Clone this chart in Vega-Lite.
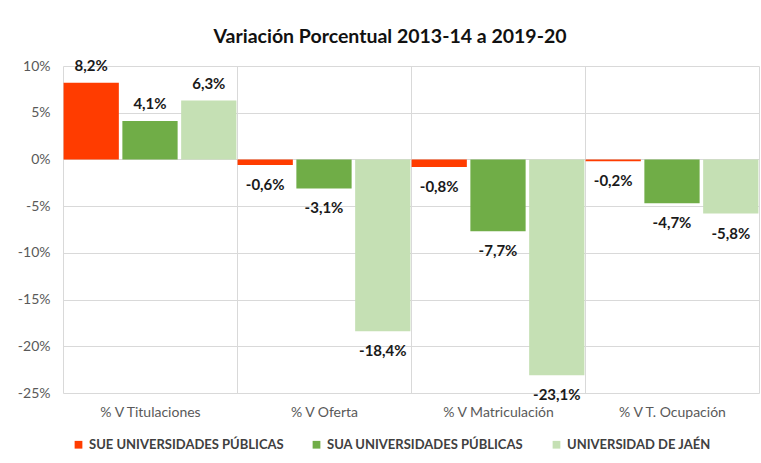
{
  "$schema": "https://vega.github.io/schema/vega-lite/v6.json",
  "width": 696,
  "height": 327,
  "autosize": {"type": "none"},
  "padding": {"left": 63, "top": 66, "right": 2, "bottom": 70},
  "background": "white",
  "config": {
    "locale": {"number": {"decimal": ",", "thousands": ".", "grouping": [3], "currency": ["", " €"], "minus": "-"}},
    "view": {"stroke": null},
    "font": "Lato"
  },
  "title": {
    "text": "Variación Porcentual 2013-14 a 2019-20",
    "fontSize": 19.5,
    "fontWeight": "bold",
    "color": "#111111",
    "anchor": "middle",
    "dx": -21,
    "offset": 11
  },
  "data": {
    "values": [
      {"indicador": "% V Titulaciones", "serie": "SUE UNIVERSIDADES PÚBLICAS", "valor": 0.082},
      {"indicador": "% V Titulaciones", "serie": "SUA UNIVERSIDADES PÚBLICAS", "valor": 0.041},
      {"indicador": "% V Titulaciones", "serie": "UNIVERSIDAD DE JAÉN", "valor": 0.063},
      {"indicador": "% V Oferta", "serie": "SUE UNIVERSIDADES PÚBLICAS", "valor": -0.006},
      {"indicador": "% V Oferta", "serie": "SUA UNIVERSIDADES PÚBLICAS", "valor": -0.031},
      {"indicador": "% V Oferta", "serie": "UNIVERSIDAD DE JAÉN", "valor": -0.184},
      {"indicador": "% V Matriculación", "serie": "SUE UNIVERSIDADES PÚBLICAS", "valor": -0.008},
      {"indicador": "% V Matriculación", "serie": "SUA UNIVERSIDADES PÚBLICAS", "valor": -0.077},
      {"indicador": "% V Matriculación", "serie": "UNIVERSIDAD DE JAÉN", "valor": -0.231},
      {"indicador": "% V T. Ocupación", "serie": "SUE UNIVERSIDADES PÚBLICAS", "valor": -0.002},
      {"indicador": "% V T. Ocupación", "serie": "SUA UNIVERSIDADES PÚBLICAS", "valor": -0.047},
      {"indicador": "% V T. Ocupación", "serie": "UNIVERSIDAD DE JAÉN", "valor": -0.058}
    ]
  },
  "encoding": {
    "x": {
      "field": "indicador",
      "type": "nominal",
      "sort": ["% V Titulaciones", "% V Oferta", "% V Matriculación", "% V T. Ocupación"],
      "scale": {"paddingInner": 0, "paddingOuter": 0},
      "axis": {
        "title": null,
        "labelAngle": 0,
        "tickBand": "extent",
        "grid": true,
        "gridColor": "#D9D9D9",
        "domain": false,
        "ticks": false,
        "labelPadding": 12,
        "labelFontSize": 14,
        "labelColor": "#595959"
      }
    },
    "xOffset": {
      "field": "serie",
      "type": "nominal",
      "sort": ["SUE UNIVERSIDADES PÚBLICAS", "SUA UNIVERSIDADES PÚBLICAS", "UNIVERSIDAD DE JAÉN"],
      "scale": {"paddingInner": 0.06, "paddingOuter": 0.01}
    },
    "y": {
      "field": "valor",
      "type": "quantitative",
      "scale": {"domain": [-0.25, 0.1], "nice": false, "zero": false},
      "axis": {
        "title": null,
        "values": [-0.25, -0.2, -0.15, -0.1, -0.05, 0, 0.05, 0.1],
        "format": ".0%",
        "grid": true,
        "gridColor": "#D9D9D9",
        "domain": false,
        "ticks": false,
        "labelPadding": 13,
        "labelFontSize": 14,
        "labelColor": "#595959"
      }
    }
  },
  "layer": [
    {
      "mark": {"type": "bar"},
      "encoding": {
        "color": {
          "field": "serie",
          "type": "nominal",
          "sort": ["SUE UNIVERSIDADES PÚBLICAS", "SUA UNIVERSIDADES PÚBLICAS", "UNIVERSIDAD DE JAÉN"],
          "scale": {
            "domain": ["SUE UNIVERSIDADES PÚBLICAS", "SUA UNIVERSIDADES PÚBLICAS", "UNIVERSIDAD DE JAÉN"],
            "range": ["#FF3C00", "#70AD47", "#C5E0B4"]
          },
          "legend": {
            "title": null,
            "orient": "none",
            "legendX": 9,
            "legendY": 372,
            "direction": "horizontal",
            "symbolType": "square",
            "symbolSize": 60,
            "symbolStrokeWidth": 0,
            "labelFontSize": 13,
            "labelFontWeight": "bold",
            "labelColor": "#404040",
            "labelLimit": 0,
            "columnPadding": 26
          }
        }
      }
    },
    {
      "transform": [{"filter": "datum.valor >= 0"}],
      "mark": {"type": "text", "dy": -17, "baseline": "middle", "fontSize": 15, "fontWeight": "bold", "color": "#1a1a1a"},
      "encoding": {"text": {"field": "valor", "type": "quantitative", "format": ".1%"}}
    },
    {
      "transform": [{"filter": "datum.valor < 0"}],
      "mark": {"type": "text", "dy": 20, "baseline": "middle", "fontSize": 15, "fontWeight": "bold", "color": "#1a1a1a"},
      "encoding": {"text": {"field": "valor", "type": "quantitative", "format": ".1%"}}
    }
  ]
}
